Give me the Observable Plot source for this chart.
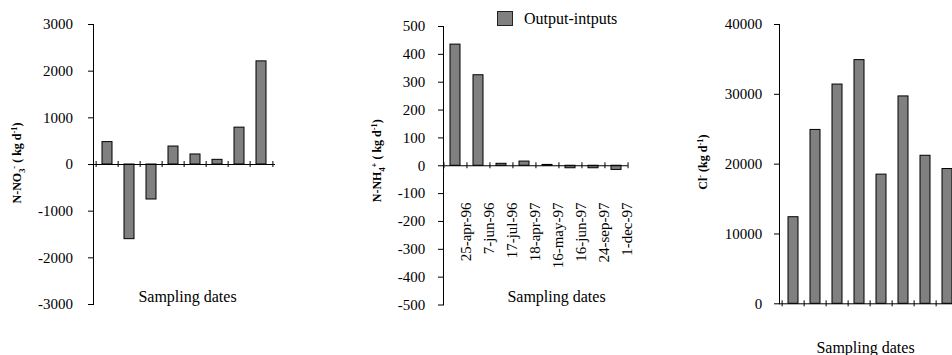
<!DOCTYPE html>
<html>
<head>
<meta charset="utf-8">
<script src="https://cdn.jsdelivr.net/npm/d3@7"></script>
<script src="https://cdn.jsdelivr.net/npm/@observablehq/plot@0.6"></script>
<style>
  html, body { margin: 0; padding: 0; background: #fff; }
  #wrap { position: relative; width: 952px; height: 355px; overflow: hidden; background: #fff;
          font-family: "Liberation Serif", "Times New Roman", serif; }
  .panel { position: absolute; top: 0; }
  #legend { position: absolute; left: 497px; top: 11px; height: 15px; display: flex; align-items: center;
            font-size: 16px; color: #000; white-space: nowrap; }
  #legend .sw { width: 14px; height: 13px; background: #808080; border: 1px solid #222; margin-right: 11px; }
</style>
</head>
<body>
<div id="wrap"></div>
<script>
// ---- data ----
const dates = ["25-apr-96", "7-jun-96", "17-jul-96", "18-apr-97", "16-may-97", "16-jun-97", "24-sep-97", "1-dec-97"];
const nitrate = [480, -1600, -750, 385, 215, 100, 790, 2210];
const ammonium = [435, 325, 7, 15, 3, -9, -9, -15];
const chloride = [12400, 24900, 31400, 34900, 18500, 29700, 21200, 19300];
const nitrateTicks = [-3000, -2000, -1000, 0, 1000, 2000, 3000];
const ammoniumTicks = [-500, -400, -300, -200, -100, 0, 100, 200, 300, 400, 500];
const chlorideTicks = [0, 10000, 20000, 30000, 40000];
const xTitle = "Sampling dates";
const legendLabel = "Output-intputs";
const nitrateTitle = [["N-NO"], ["3", "sub"], ["-", "sup"], [" ( kg d"], ["-1", "sup"], [")"]];
const ammoniumTitle = [["N-NH"], ["4", "sub"], ["+", "sup"], [" ( kg d"], ["-1", "sup"], [")"]];
const chlorideTitle = [["Cl"], ["-", "sup"], [" (kg d"], ["-1", "sup"], [")"]];

// ---- layout ----
const H = 355;
const FONT = "'Liberation Serif', 'Times New Roman', serif";
const NS = "http://www.w3.org/2000/svg";

const panels = [
  {left: 0, width: 300, ml: 93, mr: 25, mt: 24, mb: 51, values: nitrate, domain: [-3000, 3000],
   ticks: nitrateTicks, tickPadding: 15.5, title: nitrateTitle, titleDx: -76, titleDy: -1.5,
   xtDx: 3, xtDy: -8, showDates: false},
  {left: 320, width: 320, ml: 123, mr: 12, mt: 26, mb: 50.5, values: ammonium, domain: [-500, 500],
   ticks: ammoniumTicks, tickPadding: 13.3, title: ammoniumTitle, titleDx: -66, titleDy: -5,
   xtDx: 20.5, xtDy: -8.5, showDates: true},
  {left: 640, width: 340, ml: 139, mr: 19, mt: 24, mb: 51.7, values: chloride, domain: [0, 40000],
   ticks: chlorideTicks, tickPadding: 12.3, title: chlorideTitle, titleDx: -76, titleDy: -2,
   xtDx: -5, xtDy: 44, showDates: false}
];

function richify(svg, plain, segs, base) {
  svg.querySelectorAll("text").forEach(t => {
    if (t.textContent !== plain) return;
    t.textContent = "";
    let cur = 0;
    for (const [str, kind] of segs) {
      const ts = document.createElementNS(NS, "tspan");
      const target = kind === "sub" ? base * 0.3 : kind === "sup" ? -base * 0.4 : 0;
      if (target !== cur) ts.setAttribute("dy", target - cur);
      cur = target;
      if (kind) ts.setAttribute("font-size", base * 0.7);
      ts.textContent = str;
      t.appendChild(ts);
    }
  });
}

const wrap = document.getElementById("wrap");

for (const cfg of panels) {
  const rows = dates.map((d, i) => ({date: d, value: cfg.values[i]}));
  const step = (cfg.width - cfg.ml - cfg.mr) / dates.length;
  const plain = cfg.title.map(s => s[0]).join("");
  const marks = [
    Plot.barY(rows, {x: "date", y: "value", fill: "#808080", stroke: "#000", strokeWidth: 1}),
    Plot.ruleY([0], {stroke: "#000", strokeWidth: 1}),
    Plot.frame({anchor: "left", stroke: "#000", strokeWidth: 1}),
    Plot.axisY({ticks: cfg.ticks, tickSize: 5, tickPadding: cfg.tickPadding, tickFormat: d => String(d),
                label: null, fontSize: 15, stroke: "#000"}),
    Plot.ruleX(dates, {x: d => d, y1: 0, y2: 0, insetTop: -3, insetBottom: -3, dx: -step / 2, stroke: "#000"}),
    Plot.ruleX(dates.slice(-1), {x: d => d, y1: 0, y2: 0, insetTop: -3, insetBottom: -3, dx: step / 2, stroke: "#000"}),
    Plot.text([plain], {frameAnchor: "left", rotate: -90, dx: cfg.titleDx, dy: cfg.titleDy,
                        textAnchor: "middle", fontWeight: "bold", fontSize: 12, lineAnchor: "middle"}),
    Plot.text([xTitle], {frameAnchor: "bottom", dx: cfg.xtDx, dy: cfg.xtDy, fontSize: 16,
                         textAnchor: "middle", lineAnchor: "middle"})
  ];
  if (cfg.showDates) {
    marks.push(Plot.text(dates, {x: d => d, frameAnchor: "top", rotate: -90, textAnchor: "end",
                                 lineAnchor: "middle", dx: 11, dy: 176, fontSize: 15}));
  }
  const svg = Plot.plot({
    width: cfg.width, height: H,
    marginLeft: cfg.ml, marginRight: cfg.mr, marginTop: cfg.mt, marginBottom: cfg.mb,
    x: {domain: dates, axis: null, paddingInner: 0.56, paddingOuter: 0.28},
    y: {domain: cfg.domain, nice: false, axis: null},
    style: {fontFamily: FONT, fontSize: "15px", color: "#000", background: "transparent", overflow: "visible"},
    marks
  });
  richify(svg, plain, cfg.title, 12);
  svg.classList.add("panel");
  svg.style.left = cfg.left + "px";
  svg.style.position = "absolute";
  svg.style.top = "0px";
  wrap.appendChild(svg);
}

// legend
const legend = document.createElement("div");
legend.id = "legend";
const sw = document.createElement("span");
sw.className = "sw";
const lt = document.createElement("span");
lt.textContent = legendLabel;
legend.appendChild(sw);
legend.appendChild(lt);
wrap.appendChild(legend);
</script>
</body>
</html>
